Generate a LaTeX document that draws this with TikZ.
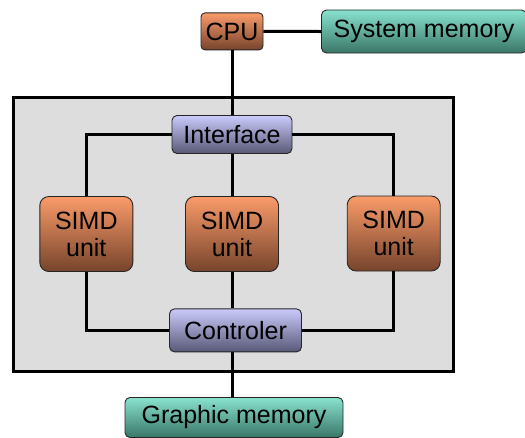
\documentclass[tikz,border=0pt]{standalone}
\usepackage{fontspec}
\setmainfont{Liberation Sans}
\usepackage{tikz}
\usetikzlibrary{shapes,arrows,positioning}

\definecolor{orgtop}{RGB}{250,155,105}
\definecolor{orgbot}{RGB}{118,68,44}
\definecolor{blutop}{RGB}{202,202,252}
\definecolor{blubot}{RGB}{88,88,118}
\definecolor{memtop}{RGB}{136,226,206}
\definecolor{membot}{RGB}{58,118,104}
\definecolor{gpufill}{RGB}{221,221,221}

\begin{document}
\begin{tikzpicture}[x=1pt,y=-1pt,
  box/.style={draw=black!85,line width=0.9pt,inner sep=0pt,align=center,
    font=\fontsize{25}{27}\selectfont},
  cpubox/.style={box,rounded corners=4pt,top color=orgtop,bottom color=orgbot},
  simdbox/.style={box,rounded corners=9pt,top color=orgtop,bottom color=orgbot,
    minimum width=93pt,minimum height=75pt},
  ctrlbox/.style={box,rounded corners=5pt,top color=blutop,bottom color=blubot},
  membox/.style={box,rounded corners=5pt,top color=memtop,bottom color=membot},
  bus/.style={line width=3pt}]

\useasboundingbox (0,0) rectangle (525,437);

% GPU card
\draw[line width=3pt,fill=gpufill] (13,97) rectangle (453,371);

\node[cpubox,minimum width=62pt,minimum height=37pt] (cpu) at (232,31.4) {CPU};
\node[membox,minimum width=205pt,minimum height=43pt] (sysmem) at (424,31.5) {System memory};

\node[ctrlbox,minimum width=120pt,minimum height=38pt] (iface) at (232,134.5) {Interface};

\node[simdbox] (simda) at (86.3,234) {SIMD\\unit};
\node[simdbox] (simdb) at (232,234) {SIMD\\unit};
\node[simdbox] (simdc) at (393.7,233.5) {SIMD\\unit};

\node[ctrlbox,minimum width=132pt,minimum height=43pt] (ctrl) at (235.5,330.4) {Controler};

\node[membox,minimum width=218pt,minimum height=40pt] (gmem) at (234,417.5) {Graphic memory};

\draw[bus] (cpu.east) -- (sysmem.west);
\draw[bus] (cpu.south) -- (iface.north);
\draw[bus] (iface.west) -| (simda.north);
\draw[bus] (iface.east) -| (simdc.north);
\draw[bus] (iface.south) -- (simdb.north);
\draw[bus] (simda.south) |- (ctrl.west);
\draw[bus] (simdc.south) |- (ctrl.east);
\draw[bus] (simdb.south) -- (simdb.south |- ctrl.north);
\draw[bus] (simdb.south |- ctrl.south) -- (simdb.south |- gmem.north);

\end{tikzpicture}
\end{document}
